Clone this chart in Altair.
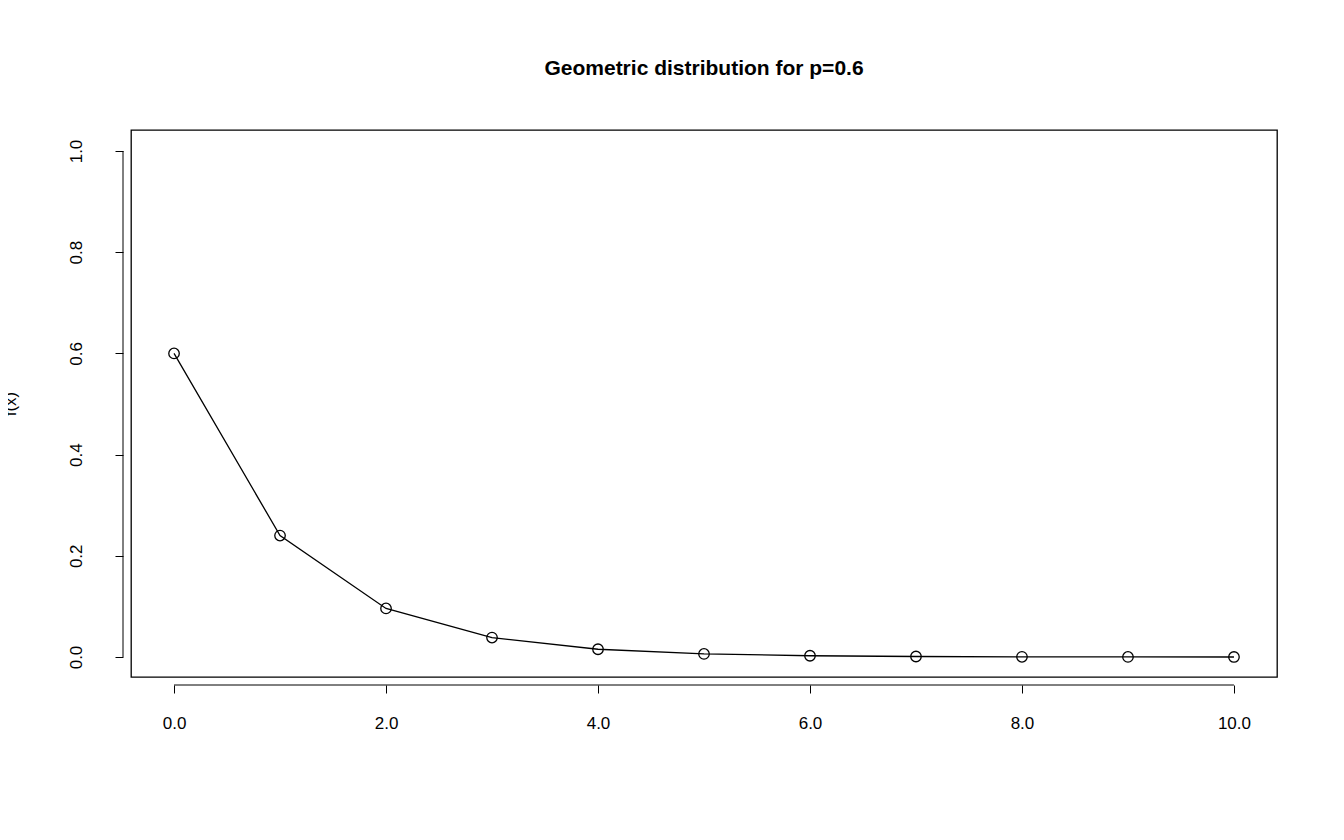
import altair as alt
import pandas as pd

# failures before first success, and P(X = x) for p = 0.6
failures = [0, 1, 2, 3, 4, 5, 6, 7, 8, 9, 10]
fx = [0.6, 0.24, 0.096, 0.0384, 0.01536, 0.006144, 0.0024576,
      0.00098304, 0.000393216, 0.0001572864, 0.00006291456]
x_ticks = [0, 2, 4, 6, 8, 10]
y_ticks = [0.0, 0.2, 0.4, 0.6, 0.8, 1.0]

data = pd.DataFrame({'x': failures, 'fx': fx})

W, H = 1146, 547
font = 'Liberation Sans'

xscale = alt.Scale(domain=[-0.406, 10.406], nice=False, zero=False)
yscale = alt.Scale(domain=[-0.0395, 1.0415], nice=False, zero=False)

base = alt.Chart(data)

line = base.mark_line(color='black', strokeWidth=1.3).encode(
    x=alt.X('x:Q', scale=xscale,
            axis=alt.Axis(values=x_ticks, title='X=Number of failures before first success',
                          titleY=665, titleFontWeight='normal')),
    y=alt.Y('fx:Q', scale=yscale,
            axis=alt.Axis(values=y_ticks, title='f(x)', labelAngle=-90,
                          labelAlign='center', labelBaseline='bottom',
                          titleX=-113, titleBaseline='middle', titleFontWeight='normal')),
)

points = base.mark_point(shape='circle', size=110, color='black', strokeWidth=1.3,
                         filled=False, opacity=1).encode(x='x:Q', y='fx:Q')

# R-style axis lines spanning only the tick range
xline = alt.Chart(pd.DataFrame({'a': [x_ticks[0]], 'b': [x_ticks[-1]]})).mark_rule(
    color='black', strokeWidth=1).encode(
    x=alt.X('a:Q', scale=xscale), x2='b:Q', y=alt.value(H + 8))
yline = alt.Chart(pd.DataFrame({'a': [y_ticks[0]], 'b': [y_ticks[-1]]})).mark_rule(
    color='black', strokeWidth=1).encode(
    y=alt.Y('a:Q', scale=yscale), y2='b:Q', x=alt.value(-8))

chart = (line + points + xline + yline).properties(
    width=W, height=H,
    autosize=alt.AutoSizeParams(type='none'),
    padding={'left': 123, 'top': 122, 'right': 55, 'bottom': 150},
    background='white',
    title=alt.Title('Geometric distribution for p=0.6', fontSize=21, font=font,
                    fontWeight='bold', anchor='middle', offset=51, color='black'),
).configure_view(
    stroke='black', strokeWidth=1.3
).configure_axis(
    grid=False, domain=False, tickColor='black', tickSize=8, offset=8,
    labelFont=font, titleFont=font, labelFontSize=17, titleFontSize=17,
    labelColor='black', titleColor='black', labelPadding=22,
).configure_axisY(labelPadding=30)

chart.save("out.html", embed_options={"renderer": "svg", "actions": False})
